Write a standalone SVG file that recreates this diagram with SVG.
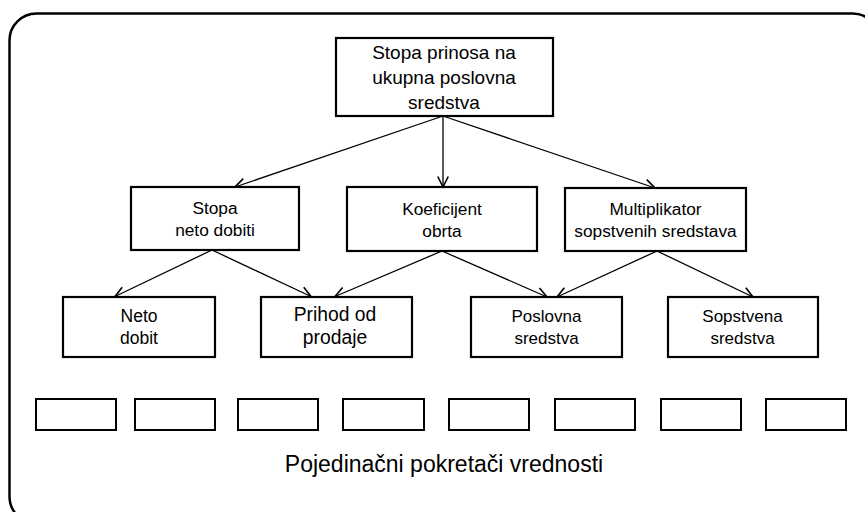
<svg xmlns="http://www.w3.org/2000/svg" width="865" height="512" viewBox="0 0 865 512">
<defs>
<marker id="arr" markerUnits="userSpaceOnUse" markerWidth="14" markerHeight="14" refX="10" refY="5" orient="auto" viewBox="0 0 12 10" overflow="visible">
<path d="M1,0.5 L10,5 L1,9.5" fill="none" stroke="#000" stroke-width="1.4"/>
</marker>
<style>
.box{fill:#fff;stroke:#000;stroke-width:2.2}
.sm{fill:#fff;stroke:#000;stroke-width:2}
.t{font-family:"Liberation Sans",Arial,sans-serif;fill:#000;text-anchor:middle}
.c{stroke:#000;stroke-width:1.3;fill:none;marker-end:url(#arr)}
</style>
</defs>
<rect width="865" height="512" fill="#fff"/>
<rect id="frame" x="9.5" y="13.5" width="870" height="510" rx="27" ry="27" fill="none" stroke="#000" stroke-width="2.5"/>
<g id="connectors">
<line class="c" x1="443" y1="116" x2="235" y2="187"/>
<line class="c" x1="443" y1="116" x2="443" y2="187"/>
<line class="c" x1="443" y1="116" x2="655" y2="188"/>
<line class="c" x1="212" y1="250" x2="115" y2="296.5"/>
<line class="c" x1="212" y1="250" x2="311" y2="296.5"/>
<line class="c" x1="442" y1="251" x2="335" y2="296.5"/>
<line class="c" x1="442" y1="251" x2="547" y2="297"/>
<line class="c" x1="657" y1="251" x2="557" y2="297"/>
<line class="c" x1="657" y1="251" x2="753" y2="297"/>
</g>
<g id="n-top">
<rect class="box" x="336" y="38" width="217" height="78"/>
<text class="t" font-size="19" x="444" y="59">Stopa prinosa na</text>
<text class="t" font-size="19" x="444" y="84">ukupna poslovna</text>
<text class="t" font-size="19" x="444" y="109">sredstva</text>
</g>
<g id="n-stopa">
<rect class="box" x="131" y="187" width="168" height="63"/>
<text class="t" font-size="17.3" x="215" y="214">Stopa</text>
<text class="t" font-size="17.3" x="215" y="236">neto dobiti</text>
</g>
<g id="n-koef">
<rect class="box" x="347" y="187" width="190" height="64"/>
<text class="t" font-size="17.3" x="442" y="215">Koeficijent</text>
<text class="t" font-size="17.3" x="442" y="237">obrta</text>
</g>
<g id="n-mult">
<rect class="box" x="565" y="188" width="181" height="63"/>
<text class="t" font-size="17.3" x="655.5" y="215">Multiplikator</text>
<text class="t" font-size="17.3" x="655.5" y="237">sopstvenih sredstava</text>
</g>
<g id="n-neto">
<rect class="box" x="63" y="297" width="152" height="60"/>
<text class="t" font-size="17.5" x="139" y="322">Neto</text>
<text class="t" font-size="17.5" x="139" y="344">dobit</text>
</g>
<g id="n-prihod">
<rect class="box" x="261" y="297" width="151" height="60"/>
<text class="t" font-size="19.3" x="335" y="321">Prihod od</text>
<text class="t" font-size="19.3" x="335" y="344">prodaje</text>
</g>
<g id="n-poslovna">
<rect class="box" x="471" y="297" width="151" height="60"/>
<text class="t" font-size="17" x="546.5" y="322">Poslovna</text>
<text class="t" font-size="17" x="546.5" y="344">sredstva</text>
</g>
<g id="n-sopstvena">
<rect class="box" x="668" y="297" width="150" height="60"/>
<text class="t" font-size="17" x="742.5" y="322">Sopstvena</text>
<text class="t" font-size="17" x="742.5" y="344">sredstva</text>
</g>
<g id="drivers">
<rect class="sm" x="36" y="399" width="80" height="31"/>
<rect class="sm" x="135" y="399" width="80" height="31"/>
<rect class="sm" x="238" y="399" width="80" height="31"/>
<rect class="sm" x="343" y="399" width="81" height="31"/>
<rect class="sm" x="449" y="399" width="80" height="31"/>
<rect class="sm" x="555" y="399" width="80" height="31"/>
<rect class="sm" x="661" y="399" width="80" height="31"/>
<rect class="sm" x="766" y="399" width="80" height="31"/>
</g>
<text id="label" class="t" font-size="23" x="444" y="472">Pojedinačni pokretači vrednosti</text>
</svg>
